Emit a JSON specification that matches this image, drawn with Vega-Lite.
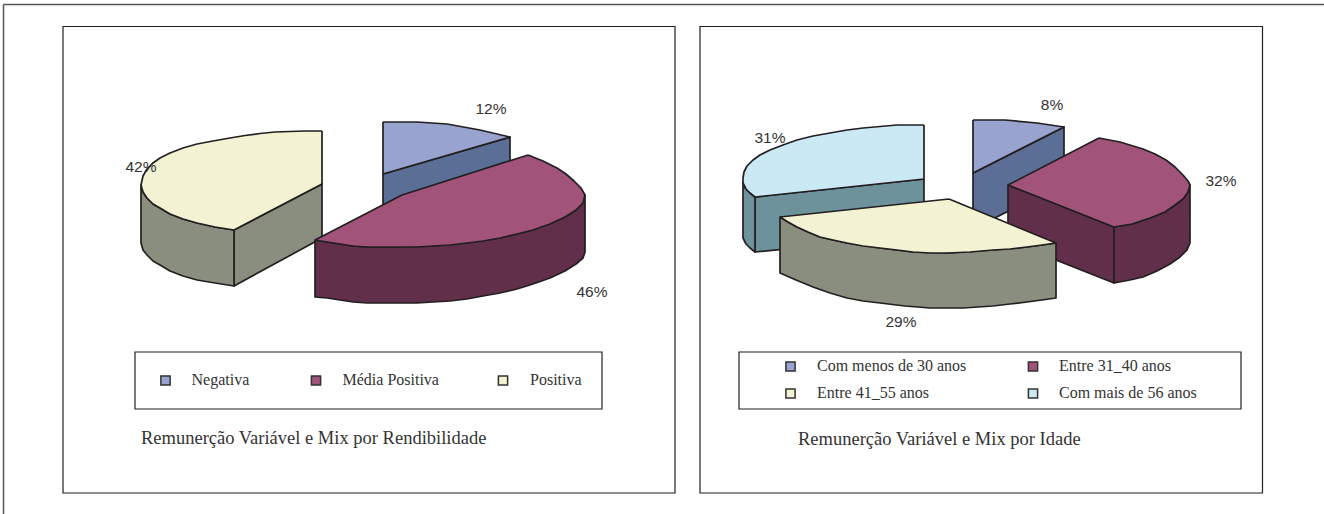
{
"$schema":"https://vega.github.io/schema/vega-lite/v6.json",
"width":1324,"height":514,"padding":0,"autosize":{"type":"none"},
"background":"white",
"view":{"stroke":null},
"datasets":{
"frames":[
{"x":63,"x2":675,"y":26.5,"y2":493},
{"x":700,"x2":1262.5,"y":26.5,"y2":493},
{"x":135,"x2":602,"y":352,"y2":409},
{"x":739,"x2":1241,"y":352,"y2":409}
],
"sheet":[
{"x":3.5,"x2":3.5,"y":4.5,"y2":514},
{"x":3.5,"x2":1324,"y":4.5,"y2":4.5}
],
"outlines":[
{"shape":"a1","tone":"blue side","n":1,"x":383,"y":174},{"shape":"a1","tone":"blue side","n":2,"x":510,"y":137},{"shape":"a1","tone":"blue side","n":3,"x":510,"y":190},{"shape":"a1","tone":"blue side","n":4,"x":383,"y":228},{"shape":"a1","tone":"blue side","n":5,"x":383,"y":174},
{"shape":"a2","tone":"blue top","n":1,"x":383,"y":122},{"shape":"a2","tone":"blue top","n":2,"x":400,"y":122},{"shape":"a2","tone":"blue top","n":3,"x":417,"y":122},{"shape":"a2","tone":"blue top","n":4,"x":447,"y":124},{"shape":"a2","tone":"blue top","n":5,"x":480,"y":130},{"shape":"a2","tone":"blue top","n":6,"x":510,"y":137},{"shape":"a2","tone":"blue top","n":7,"x":383,"y":174},{"shape":"a2","tone":"blue top","n":8,"x":383,"y":122},
{"shape":"a3","tone":"yellow side","n":1,"x":234,"y":230},{"shape":"a3","tone":"yellow side","n":2,"x":322,"y":184},{"shape":"a3","tone":"yellow side","n":3,"x":322,"y":238},{"shape":"a3","tone":"yellow side","n":4,"x":234,"y":286},{"shape":"a3","tone":"yellow side","n":5,"x":234,"y":230},
{"shape":"a4","tone":"yellow side","n":1,"x":234,"y":230},{"shape":"a4","tone":"yellow side","n":2,"x":215,"y":227},{"shape":"a4","tone":"yellow side","n":3,"x":197,"y":223},{"shape":"a4","tone":"yellow side","n":4,"x":183,"y":219},{"shape":"a4","tone":"yellow side","n":5,"x":170,"y":214},{"shape":"a4","tone":"yellow side","n":6,"x":160,"y":208},{"shape":"a4","tone":"yellow side","n":7,"x":153,"y":204},{"shape":"a4","tone":"yellow side","n":8,"x":147,"y":198},{"shape":"a4","tone":"yellow side","n":9,"x":143,"y":192},{"shape":"a4","tone":"yellow side","n":10,"x":141,"y":185},{"shape":"a4","tone":"yellow side","n":11,"x":141,"y":243},{"shape":"a4","tone":"yellow side","n":12,"x":143,"y":250},{"shape":"a4","tone":"yellow side","n":13,"x":147,"y":255},{"shape":"a4","tone":"yellow side","n":14,"x":153,"y":261},{"shape":"a4","tone":"yellow side","n":15,"x":160,"y":265},{"shape":"a4","tone":"yellow side","n":16,"x":170,"y":271},{"shape":"a4","tone":"yellow side","n":17,"x":183,"y":276},{"shape":"a4","tone":"yellow side","n":18,"x":197,"y":280},{"shape":"a4","tone":"yellow side","n":19,"x":215,"y":283},{"shape":"a4","tone":"yellow side","n":20,"x":234,"y":286},{"shape":"a4","tone":"yellow side","n":21,"x":234,"y":230},
{"shape":"a5","tone":"yellow top","n":1,"x":322,"y":131},{"shape":"a5","tone":"yellow top","n":2,"x":322,"y":184},{"shape":"a5","tone":"yellow top","n":3,"x":234,"y":230},{"shape":"a5","tone":"yellow top","n":4,"x":215,"y":227},{"shape":"a5","tone":"yellow top","n":5,"x":197,"y":223},{"shape":"a5","tone":"yellow top","n":6,"x":183,"y":219},{"shape":"a5","tone":"yellow top","n":7,"x":170,"y":214},{"shape":"a5","tone":"yellow top","n":8,"x":160,"y":208},{"shape":"a5","tone":"yellow top","n":9,"x":153,"y":204},{"shape":"a5","tone":"yellow top","n":10,"x":147,"y":198},{"shape":"a5","tone":"yellow top","n":11,"x":143,"y":192},{"shape":"a5","tone":"yellow top","n":12,"x":141,"y":185},{"shape":"a5","tone":"yellow top","n":13,"x":143,"y":176},{"shape":"a5","tone":"yellow top","n":14,"x":147,"y":169},{"shape":"a5","tone":"yellow top","n":15,"x":153,"y":163},{"shape":"a5","tone":"yellow top","n":16,"x":160,"y":158},{"shape":"a5","tone":"yellow top","n":17,"x":170,"y":153},{"shape":"a5","tone":"yellow top","n":18,"x":183,"y":148},{"shape":"a5","tone":"yellow top","n":19,"x":197,"y":144},{"shape":"a5","tone":"yellow top","n":20,"x":213,"y":141},{"shape":"a5","tone":"yellow top","n":21,"x":230,"y":138},{"shape":"a5","tone":"yellow top","n":22,"x":245,"y":135.5},{"shape":"a5","tone":"yellow top","n":23,"x":260,"y":133.5},{"shape":"a5","tone":"yellow top","n":24,"x":275,"y":132},{"shape":"a5","tone":"yellow top","n":25,"x":290,"y":131.5},{"shape":"a5","tone":"yellow top","n":26,"x":305,"y":131},{"shape":"a5","tone":"yellow top","n":27,"x":322,"y":131},
{"shape":"a6","tone":"purple side","n":1,"x":315,"y":240},{"shape":"a6","tone":"purple side","n":2,"x":327,"y":242},{"shape":"a6","tone":"purple side","n":3,"x":340,"y":244},{"shape":"a6","tone":"purple side","n":4,"x":353,"y":246},{"shape":"a6","tone":"purple side","n":5,"x":367,"y":247},{"shape":"a6","tone":"purple side","n":6,"x":400,"y":247},{"shape":"a6","tone":"purple side","n":7,"x":433,"y":246},{"shape":"a6","tone":"purple side","n":8,"x":467,"y":243},{"shape":"a6","tone":"purple side","n":9,"x":500,"y":238},{"shape":"a6","tone":"purple side","n":10,"x":533,"y":230},{"shape":"a6","tone":"purple side","n":11,"x":565,"y":217},{"shape":"a6","tone":"purple side","n":12,"x":576,"y":210},{"shape":"a6","tone":"purple side","n":13,"x":583,"y":203},{"shape":"a6","tone":"purple side","n":14,"x":585,"y":195},{"shape":"a6","tone":"purple side","n":15,"x":585,"y":252},{"shape":"a6","tone":"purple side","n":16,"x":583,"y":258},{"shape":"a6","tone":"purple side","n":17,"x":576,"y":264},{"shape":"a6","tone":"purple side","n":18,"x":565,"y":271},{"shape":"a6","tone":"purple side","n":19,"x":550,"y":278},{"shape":"a6","tone":"purple side","n":20,"x":533,"y":284},{"shape":"a6","tone":"purple side","n":21,"x":517,"y":289},{"shape":"a6","tone":"purple side","n":22,"x":500,"y":293},{"shape":"a6","tone":"purple side","n":23,"x":483,"y":296},{"shape":"a6","tone":"purple side","n":24,"x":467,"y":299},{"shape":"a6","tone":"purple side","n":25,"x":450,"y":301},{"shape":"a6","tone":"purple side","n":26,"x":433,"y":302},{"shape":"a6","tone":"purple side","n":27,"x":417,"y":303},{"shape":"a6","tone":"purple side","n":28,"x":400,"y":303},{"shape":"a6","tone":"purple side","n":29,"x":383,"y":303},{"shape":"a6","tone":"purple side","n":30,"x":367,"y":303},{"shape":"a6","tone":"purple side","n":31,"x":353,"y":302},{"shape":"a6","tone":"purple side","n":32,"x":340,"y":300},{"shape":"a6","tone":"purple side","n":33,"x":327,"y":298},{"shape":"a6","tone":"purple side","n":34,"x":315,"y":297},{"shape":"a6","tone":"purple side","n":35,"x":315,"y":240},
{"shape":"a7","tone":"purple top","n":1,"x":528,"y":155},{"shape":"a7","tone":"purple top","n":2,"x":543,"y":161},{"shape":"a7","tone":"purple top","n":3,"x":557,"y":168},{"shape":"a7","tone":"purple top","n":4,"x":566,"y":174},{"shape":"a7","tone":"purple top","n":5,"x":574,"y":181},{"shape":"a7","tone":"purple top","n":6,"x":581,"y":188},{"shape":"a7","tone":"purple top","n":7,"x":585,"y":195},{"shape":"a7","tone":"purple top","n":8,"x":583,"y":203},{"shape":"a7","tone":"purple top","n":9,"x":576,"y":210},{"shape":"a7","tone":"purple top","n":10,"x":565,"y":217},{"shape":"a7","tone":"purple top","n":11,"x":550,"y":224},{"shape":"a7","tone":"purple top","n":12,"x":533,"y":230},{"shape":"a7","tone":"purple top","n":13,"x":517,"y":234},{"shape":"a7","tone":"purple top","n":14,"x":500,"y":238},{"shape":"a7","tone":"purple top","n":15,"x":483,"y":241},{"shape":"a7","tone":"purple top","n":16,"x":467,"y":243},{"shape":"a7","tone":"purple top","n":17,"x":450,"y":245},{"shape":"a7","tone":"purple top","n":18,"x":433,"y":246},{"shape":"a7","tone":"purple top","n":19,"x":417,"y":247},{"shape":"a7","tone":"purple top","n":20,"x":400,"y":247},{"shape":"a7","tone":"purple top","n":21,"x":383,"y":247},{"shape":"a7","tone":"purple top","n":22,"x":367,"y":247},{"shape":"a7","tone":"purple top","n":23,"x":353,"y":246},{"shape":"a7","tone":"purple top","n":24,"x":340,"y":244},{"shape":"a7","tone":"purple top","n":25,"x":327,"y":242},{"shape":"a7","tone":"purple top","n":26,"x":315,"y":240},{"shape":"a7","tone":"purple top","n":27,"x":402,"y":195},{"shape":"a7","tone":"purple top","n":28,"x":528,"y":155},

{"shape":"b1","tone":"cyan side","n":1,"x":755,"y":197},{"shape":"b1","tone":"cyan side","n":2,"x":924,"y":179},{"shape":"b1","tone":"cyan side","n":3,"x":924,"y":235},{"shape":"b1","tone":"cyan side","n":4,"x":755,"y":252},{"shape":"b1","tone":"cyan side","n":5,"x":755,"y":197},
{"shape":"b2","tone":"cyan side","n":1,"x":755,"y":197},{"shape":"b2","tone":"cyan side","n":2,"x":750,"y":193},{"shape":"b2","tone":"cyan side","n":3,"x":746,"y":189},{"shape":"b2","tone":"cyan side","n":4,"x":743,"y":183},{"shape":"b2","tone":"cyan side","n":5,"x":743,"y":238},{"shape":"b2","tone":"cyan side","n":6,"x":746,"y":244},{"shape":"b2","tone":"cyan side","n":7,"x":750,"y":248},{"shape":"b2","tone":"cyan side","n":8,"x":755,"y":252},{"shape":"b2","tone":"cyan side","n":9,"x":755,"y":197},
{"shape":"b3","tone":"cyan top","n":1,"x":924,"y":125},{"shape":"b3","tone":"cyan top","n":2,"x":924,"y":179},{"shape":"b3","tone":"cyan top","n":3,"x":755,"y":197},{"shape":"b3","tone":"cyan top","n":4,"x":750,"y":193},{"shape":"b3","tone":"cyan top","n":5,"x":746,"y":189},{"shape":"b3","tone":"cyan top","n":6,"x":743,"y":183},{"shape":"b3","tone":"cyan top","n":7,"x":743,"y":178},{"shape":"b3","tone":"cyan top","n":8,"x":744,"y":172},{"shape":"b3","tone":"cyan top","n":9,"x":747,"y":166},{"shape":"b3","tone":"cyan top","n":10,"x":753,"y":160},{"shape":"b3","tone":"cyan top","n":11,"x":760,"y":155},{"shape":"b3","tone":"cyan top","n":12,"x":770,"y":150},{"shape":"b3","tone":"cyan top","n":13,"x":783,"y":145},{"shape":"b3","tone":"cyan top","n":14,"x":797,"y":140},{"shape":"b3","tone":"cyan top","n":15,"x":813,"y":136},{"shape":"b3","tone":"cyan top","n":16,"x":830,"y":133},{"shape":"b3","tone":"cyan top","n":17,"x":847,"y":130},{"shape":"b3","tone":"cyan top","n":18,"x":863,"y":128},{"shape":"b3","tone":"cyan top","n":19,"x":880,"y":126.5},{"shape":"b3","tone":"cyan top","n":20,"x":897,"y":125},{"shape":"b3","tone":"cyan top","n":21,"x":924,"y":125},
{"shape":"b4","tone":"blue side","n":1,"x":973,"y":173},{"shape":"b4","tone":"blue side","n":2,"x":1064,"y":127},{"shape":"b4","tone":"blue side","n":3,"x":1064,"y":183},{"shape":"b4","tone":"blue side","n":4,"x":973,"y":229},{"shape":"b4","tone":"blue side","n":5,"x":973,"y":173},
{"shape":"b5","tone":"blue top","n":1,"x":973,"y":120},{"shape":"b5","tone":"blue top","n":2,"x":1005,"y":120},{"shape":"b5","tone":"blue top","n":3,"x":1037,"y":123},{"shape":"b5","tone":"blue top","n":4,"x":1064,"y":127},{"shape":"b5","tone":"blue top","n":5,"x":973,"y":173},{"shape":"b5","tone":"blue top","n":6,"x":973,"y":120},
{"shape":"b6","tone":"purple side","n":1,"x":1008,"y":185},{"shape":"b6","tone":"purple side","n":2,"x":1114,"y":227},{"shape":"b6","tone":"purple side","n":3,"x":1114,"y":283},{"shape":"b6","tone":"purple side","n":4,"x":1008,"y":241},{"shape":"b6","tone":"purple side","n":5,"x":1008,"y":185},
{"shape":"b7","tone":"purple side","n":1,"x":1114,"y":227},{"shape":"b7","tone":"purple side","n":2,"x":1132,"y":224},{"shape":"b7","tone":"purple side","n":3,"x":1150,"y":218},{"shape":"b7","tone":"purple side","n":4,"x":1165,"y":212},{"shape":"b7","tone":"purple side","n":5,"x":1175,"y":205},{"shape":"b7","tone":"purple side","n":6,"x":1183,"y":199},{"shape":"b7","tone":"purple side","n":7,"x":1188,"y":192},{"shape":"b7","tone":"purple side","n":8,"x":1190,"y":185},{"shape":"b7","tone":"purple side","n":9,"x":1190,"y":243},{"shape":"b7","tone":"purple side","n":10,"x":1187,"y":250},{"shape":"b7","tone":"purple side","n":11,"x":1180,"y":257},{"shape":"b7","tone":"purple side","n":12,"x":1170,"y":264},{"shape":"b7","tone":"purple side","n":13,"x":1157,"y":271},{"shape":"b7","tone":"purple side","n":14,"x":1143,"y":277},{"shape":"b7","tone":"purple side","n":15,"x":1130,"y":280},{"shape":"b7","tone":"purple side","n":16,"x":1114,"y":283},{"shape":"b7","tone":"purple side","n":17,"x":1114,"y":227},
{"shape":"b8","tone":"purple top","n":1,"x":1099,"y":138},{"shape":"b8","tone":"purple top","n":2,"x":1120,"y":142},{"shape":"b8","tone":"purple top","n":3,"x":1143,"y":149},{"shape":"b8","tone":"purple top","n":4,"x":1155,"y":154},{"shape":"b8","tone":"purple top","n":5,"x":1166,"y":160},{"shape":"b8","tone":"purple top","n":6,"x":1175,"y":167},{"shape":"b8","tone":"purple top","n":7,"x":1183,"y":175},{"shape":"b8","tone":"purple top","n":8,"x":1188,"y":181},{"shape":"b8","tone":"purple top","n":9,"x":1190,"y":185},{"shape":"b8","tone":"purple top","n":10,"x":1188,"y":192},{"shape":"b8","tone":"purple top","n":11,"x":1183,"y":199},{"shape":"b8","tone":"purple top","n":12,"x":1175,"y":205},{"shape":"b8","tone":"purple top","n":13,"x":1165,"y":212},{"shape":"b8","tone":"purple top","n":14,"x":1150,"y":218},{"shape":"b8","tone":"purple top","n":15,"x":1132,"y":224},{"shape":"b8","tone":"purple top","n":16,"x":1114,"y":227},{"shape":"b8","tone":"purple top","n":17,"x":1008,"y":185},{"shape":"b8","tone":"purple top","n":18,"x":1099,"y":138},
{"shape":"b9","tone":"yellow side","n":1,"x":780,"y":217},{"shape":"b9","tone":"yellow side","n":2,"x":788,"y":222},{"shape":"b9","tone":"yellow side","n":3,"x":797,"y":227},{"shape":"b9","tone":"yellow side","n":4,"x":808,"y":232},{"shape":"b9","tone":"yellow side","n":5,"x":820,"y":237},{"shape":"b9","tone":"yellow side","n":6,"x":833,"y":240},{"shape":"b9","tone":"yellow side","n":7,"x":847,"y":243},{"shape":"b9","tone":"yellow side","n":8,"x":880,"y":248},{"shape":"b9","tone":"yellow side","n":9,"x":913,"y":252},{"shape":"b9","tone":"yellow side","n":10,"x":947,"y":253},{"shape":"b9","tone":"yellow side","n":11,"x":993,"y":250},{"shape":"b9","tone":"yellow side","n":12,"x":1027,"y":247},{"shape":"b9","tone":"yellow side","n":13,"x":1056,"y":243},{"shape":"b9","tone":"yellow side","n":14,"x":1056,"y":298},{"shape":"b9","tone":"yellow side","n":15,"x":1042,"y":300},{"shape":"b9","tone":"yellow side","n":16,"x":1027,"y":302},{"shape":"b9","tone":"yellow side","n":17,"x":1010,"y":304},{"shape":"b9","tone":"yellow side","n":18,"x":993,"y":306},{"shape":"b9","tone":"yellow side","n":19,"x":978,"y":307},{"shape":"b9","tone":"yellow side","n":20,"x":963,"y":308},{"shape":"b9","tone":"yellow side","n":21,"x":947,"y":308},{"shape":"b9","tone":"yellow side","n":22,"x":930,"y":308},{"shape":"b9","tone":"yellow side","n":23,"x":905,"y":306},{"shape":"b9","tone":"yellow side","n":24,"x":880,"y":303},{"shape":"b9","tone":"yellow side","n":25,"x":863,"y":301},{"shape":"b9","tone":"yellow side","n":26,"x":847,"y":298},{"shape":"b9","tone":"yellow side","n":27,"x":830,"y":293},{"shape":"b9","tone":"yellow side","n":28,"x":813,"y":287},{"shape":"b9","tone":"yellow side","n":29,"x":796,"y":280},{"shape":"b9","tone":"yellow side","n":30,"x":780,"y":273},{"shape":"b9","tone":"yellow side","n":31,"x":780,"y":217},
{"shape":"c1","tone":"yellow top","n":1,"x":949,"y":199},{"shape":"c1","tone":"yellow top","n":2,"x":1056,"y":243},{"shape":"c1","tone":"yellow top","n":3,"x":1042,"y":245},{"shape":"c1","tone":"yellow top","n":4,"x":1027,"y":247},{"shape":"c1","tone":"yellow top","n":5,"x":1010,"y":249},{"shape":"c1","tone":"yellow top","n":6,"x":993,"y":250},{"shape":"c1","tone":"yellow top","n":7,"x":970,"y":252},{"shape":"c1","tone":"yellow top","n":8,"x":947,"y":253},{"shape":"c1","tone":"yellow top","n":9,"x":930,"y":253},{"shape":"c1","tone":"yellow top","n":10,"x":913,"y":252},{"shape":"c1","tone":"yellow top","n":11,"x":897,"y":250},{"shape":"c1","tone":"yellow top","n":12,"x":880,"y":248},{"shape":"c1","tone":"yellow top","n":13,"x":863,"y":246},{"shape":"c1","tone":"yellow top","n":14,"x":847,"y":243},{"shape":"c1","tone":"yellow top","n":15,"x":833,"y":240},{"shape":"c1","tone":"yellow top","n":16,"x":820,"y":237},{"shape":"c1","tone":"yellow top","n":17,"x":808,"y":232},{"shape":"c1","tone":"yellow top","n":18,"x":797,"y":227},{"shape":"c1","tone":"yellow top","n":19,"x":788,"y":222},{"shape":"c1","tone":"yellow top","n":20,"x":780,"y":217},{"shape":"c1","tone":"yellow top","n":21,"x":949,"y":199}
],
"shares":[
{"share":0.12,"x":491,"y":109},{"share":0.46,"x":592,"y":292},{"share":0.42,"x":141,"y":167},
{"share":0.08,"x":1052,"y":105},{"share":0.32,"x":1221,"y":181},{"share":0.31,"x":770,"y":138},{"share":0.29,"x":901,"y":322}
],
"swatches":[
{"tone":"blue top","x":165.5,"y":380.5},{"tone":"purple top","x":316,"y":380.5},{"tone":"yellow top","x":503,"y":380.5},
{"tone":"blue top","x":790.5,"y":366.5},{"tone":"purple top","x":1033,"y":366.5},{"tone":"yellow top","x":790.5,"y":393.5},{"tone":"cyan top","x":1033,"y":393.5}
],
"captions":[
{"text":"Negativa","x":191.5,"y":385},{"text":"Média Positiva","x":342.5,"y":385},{"text":"Positiva","x":530,"y":385},
{"text":"Com menos de 30 anos","x":817,"y":371},{"text":"Entre 31_40 anos","x":1059,"y":371},{"text":"Entre 41_55 anos","x":817,"y":398},{"text":"Com mais de 56 anos","x":1059,"y":398}
],
"titles":[
{"text":"Remunerção Variável e Mix por Rendibilidade","x":141,"y":444},{"text":"Remunerção Variável e Mix por Idade","x":798,"y":445}
]
},
"encoding":{
"x":{"field":"x","type":"quantitative","axis":null,"scale":{"domain":[0,1324],"range":[0,1324],"nice":false,"zero":false}},
"y":{"field":"y","type":"quantitative","axis":null,"scale":{"domain":[514,0],"range":[514,0],"nice":false,"zero":false}}
},
"layer":[
{"data":{"name":"sheet"},"mark":{"type":"rule","stroke":"#555555","strokeWidth":1.5},
 "encoding":{"x2":{"field":"x2"},"y2":{"field":"y2"}}},
{"data":{"name":"frames"},"mark":{"type":"rect","fill":"white","stroke":"#231f20","strokeWidth":1.2},
 "encoding":{"x2":{"field":"x2"},"y2":{"field":"y2"}}},
{"data":{"name":"outlines"},"mark":{"type":"line","stroke":"#231f20","strokeWidth":1.7,"strokeJoin":"round","interpolate":"linear"},
 "encoding":{"detail":{"field":"shape"},"order":{"field":"n","type":"quantitative"},
 "fill":{"field":"tone","type":"nominal","legend":null,"scale":{"domain":["blue top","blue side","purple top","purple side","yellow top","yellow side","cyan top","cyan side"],"range":["#98a3d0","#5a6e96","#a2537a","#622f4b","#f3f2d3","#898e7e","#cae9f4","#6d929b"]}}}},
{"data":{"name":"swatches"},"mark":{"type":"square","filled":true,"size":85,"stroke":"#333333","strokeWidth":1.5,"opacity":1},
 "encoding":{"fill":{"field":"tone","type":"nominal","legend":null}}},
{"data":{"name":"shares"},"mark":{"type":"text","font":"Liberation Sans","fontSize":15.5,"fill":"#333333","align":"center","baseline":"middle"},
 "encoding":{"text":{"field":"share","type":"quantitative","format":".0%"}}},
{"data":{"name":"captions"},"mark":{"type":"text","font":"Liberation Serif","fontSize":16,"fill":"#333333","align":"left","baseline":"alphabetic"},
 "encoding":{"text":{"field":"text","type":"nominal"}}},
{"data":{"name":"titles"},"mark":{"type":"text","font":"Liberation Serif","fontSize":18.5,"fill":"#333333","align":"left","baseline":"alphabetic"},
 "encoding":{"text":{"field":"text","type":"nominal"}}}
]
}
